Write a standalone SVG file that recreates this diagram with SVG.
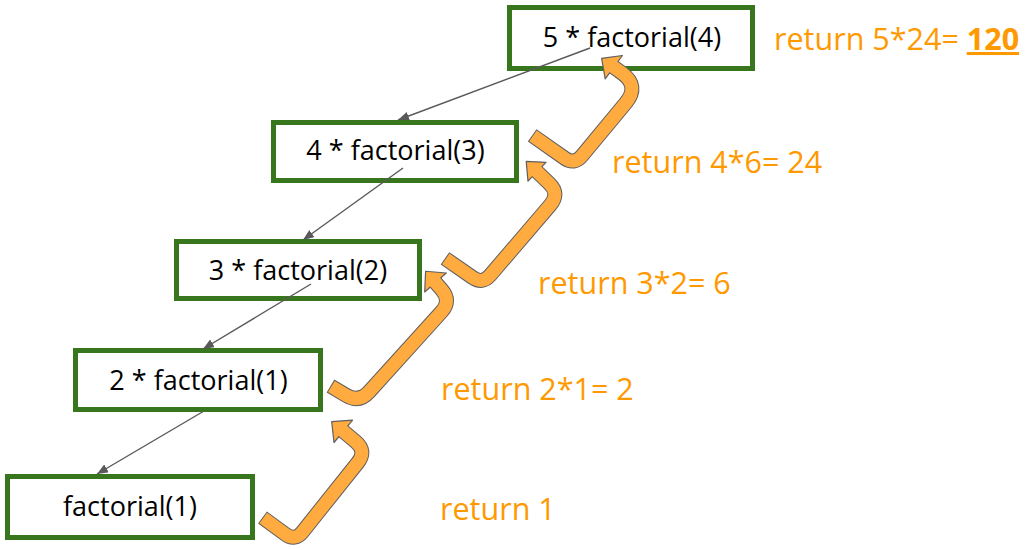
<svg xmlns="http://www.w3.org/2000/svg" width="1030" height="550" viewBox="0 0 1030 550">
<defs>
<style>
.box{fill:#fff;stroke:#38761d;stroke-width:5}
.bt{font-family:"Open Sans","Noto Sans","Liberation Sans",sans-serif;font-size:27px;fill:#000;text-anchor:middle}
.ot{font-family:"Open Sans","Noto Sans","Liberation Sans",sans-serif;font-size:30.5px;fill:#ff9900}
.conn{fill:none;stroke:#595959;stroke-width:1.4}
.rout{fill:none;stroke:#5f5f5f;stroke-width:15;stroke-linejoin:round}
.rin{fill:none;stroke:#ffab40;stroke-width:13;stroke-linejoin:round}
.rhead{fill:#ffab40;stroke:#5f5f5f;stroke-width:1.2;stroke-linejoin:round}
</style>
<marker id="ah" markerUnits="userSpaceOnUse" markerWidth="12" markerHeight="10" refX="11" refY="4.5" orient="auto">
<path d="M0,0 L11,4.5 L0,9 z" fill="#595959"/>
</marker>
</defs>
<rect width="1030" height="550" fill="#fff"/>
<g id="node-f5">
<rect class="box" x="509.5" y="7.5" width="243" height="61"/>
<text class="bt" x="632" y="47">5 * factorial(4)</text>
</g>
<g id="node-f4">
<rect class="box" x="273.5" y="122.5" width="243" height="58"/>
<text class="bt" x="395.5" y="160">4 * factorial(3)</text>
</g>
<g id="node-f3">
<rect class="box" x="176.5" y="241.5" width="243" height="57"/>
<text class="bt" x="298" y="280">3 * factorial(2)</text>
</g>
<g id="node-f2">
<rect class="box" x="75.5" y="350.5" width="245" height="59"/>
<text class="bt" x="198.5" y="390">2 * factorial(1)</text>
</g>
<g id="node-f1">
<rect class="box" x="7.5" y="476.5" width="245" height="61"/>
<text class="bt" x="130" y="516">factorial(1)</text>
</g>
<g id="connectors">
<line class="conn" x1="590" y1="48" x2="398" y2="120" marker-end="url(#ah)"/>
<line class="conn" x1="403" y1="168" x2="303" y2="240" marker-end="url(#ah)"/>
<line class="conn" x1="311" y1="284" x2="203" y2="349" marker-end="url(#ah)"/>
<line class="conn" x1="204" y1="411" x2="97" y2="474" marker-end="url(#ah)"/>
<g id="return-arrows">
<path class="rout" d="M262.5,517.5 L285.4,534.2 Q295.1,541.3 302.5,531.9 L357.7,462.7 Q367,451 355.5,441.4 L343.3,431.3"/>
<polygon class="rhead" points="331.7,421.7 334,442.5 352.6,420.1"/>
<path class="rin" d="M263.3,518.1 L285.4,534.2 Q295.1,541.3 302.5,531.9 L357.7,462.7 Q367,451 355.5,441.4 L341.8,430"/>
<path class="rout" d="M330.5,386 L346.1,395.3 Q359,403 369.05,391.9 L441.5,311.8 Q451.5,300.7 441.6,289.45 L435.5,282.5"/>
<polygon class="rhead" points="425.6,271.25 424.7,292 446.3,273"/>
<path class="rin" d="M331.4,386.5 L346.1,395.3 Q359,403 369.05,391.9 L441.5,311.8 Q451.5,300.7 441.6,289.45 L434.2,281"/>
<path class="rout" d="M445,258.3 L472.6,277.5 Q482.4,284.3 490.2,275.2 L550.25,205.1 Q560,193.7 549.2,183.35 L537,171.7"/>
<polygon class="rhead" points="526.2,161.35 528,181.1 546,162.3"/>
<path class="rin" d="M445.8,258.9 L472.6,277.5 Q482.4,284.3 490.2,275.2 L550.25,205.1 Q560,193.7 549.2,183.35 L535.6,170.3"/>
<path class="rout" d="M532.2,135.3 L564.4,158 Q574.2,165 581.9,155.8 L625.7,103 Q639.8,86.1 622,73.1 L613.8,67.2"/>
<polygon class="rhead" points="601.65,58.35 605.2,78.9 622.4,55.5"/>
<path class="rin" d="M533,135.9 L564.4,158 Q574.2,165 581.9,155.8 L625.7,103 Q639.8,86.1 622,73.1 L612.2,66"/>
</g>
</g>
<g id="labels">
<text class="ot" x="774" y="50">return 5*24= <tspan font-weight="bold" text-decoration="underline">120</tspan></text>
<text class="ot" x="612" y="173">return 4*6= 24</text>
<text class="ot" x="538" y="294">return 3*2= 6</text>
<text class="ot" x="441" y="400">return 2*1= 2</text>
<text class="ot" x="440" y="520">return 1</text>
</g>
</svg>
